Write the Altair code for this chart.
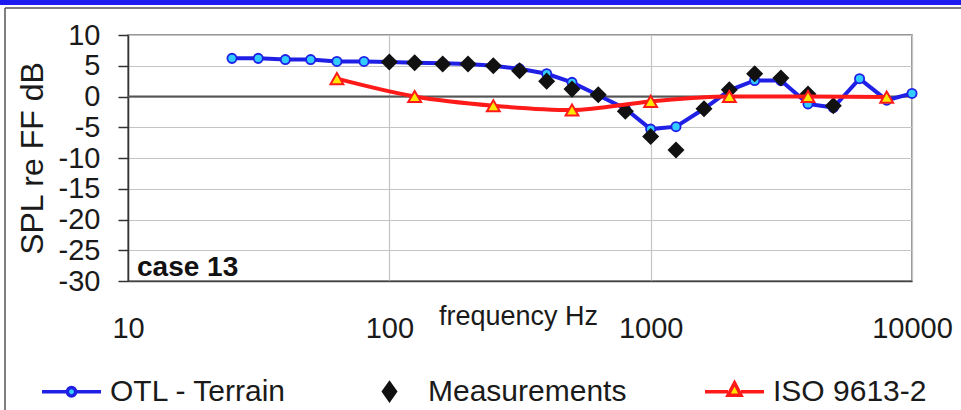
import altair as alt
import pandas as pd

# ---- data ----
otl_freq = [25, 31.5, 40, 50, 63, 80, 100, 125, 160, 200, 250, 315, 400, 500, 630,
            800, 1000, 1250, 1600, 2000, 2500, 3150, 4000, 5000, 6300, 8000, 10000]
otl_val = [6.2, 6.2, 6.0, 6.0, 5.7, 5.7, 5.6, 5.5, 5.4, 5.3, 5.0, 4.5, 3.7, 2.3, 0.2,
           -2.0, -5.3, -4.9, -2.0, 1.0, 2.6, 2.6, -1.2, -1.8, 2.9, -0.6, 0.5]

meas_freq = [100, 125, 160, 200, 250, 315, 400, 500, 630, 800, 1000, 1250, 1600,
             2000, 2500, 3150, 4000, 5000]
meas_val = [5.6, 5.5, 5.3, 5.3, 5.0, 4.2, 2.5, 1.2, 0.3, -2.4, -6.5, -8.7, -2.0,
            1.1, 3.7, 3.0, 0.4, -1.5]

iso_freq = [63, 125, 250, 500, 1000, 2000, 4000, 8000]
iso_val = [2.9, 0.0, -1.5, -2.2, -0.8, 0.0, 0.0, -0.1]

series_names = ["OTL - Terrain", "Measurements", "ISO 9613-2"]
x_ticks = [10, 100, 1000, 10000]
y_ticks = [-30, -25, -20, -15, -10, -5, 0, 5, 10]
case_label = ["case 13"]
zero_line = [0]

otl = pd.DataFrame({"f": otl_freq, "v": otl_val})
meas = pd.DataFrame({"f": meas_freq, "v": meas_val})
iso = pd.DataFrame({"f": iso_freq, "v": iso_val})

FONT = "Liberation Sans"
TXT = "#1a1a1a"
BLUE = "#1f1fe6"
CYAN = "#33ccff"
BLACK = "#111111"
RED = "#ff1a1a"
YELLOW = "#ffe600"

W, H = 784, 246
xs = alt.Scale(type="log", domain=[10, 10000])
ys = alt.Scale(domain=[-30, 10])

xaxis = alt.Axis(values=x_ticks, labelExpr="'' + datum.value", title="frequency Hz",
                 grid=True, gridColor="#c4c4c4", gridWidth=1.2, ticks=False, tickSize=0,
                 domain=True, domainColor="#444444", domainWidth=1.5,
                 labelFont=FONT, labelFontSize=29, labelColor=TXT, labelPadding=33,
                 labelFlush=False, labelOverlap=False, labelBound=False,
                 titleFont=FONT, titleFontSize=27, titleFontWeight="normal",
                 titleColor=TXT, titleX=390, titleY=43, titleBaseline="alphabetic",
                 titleAlign="center")
yaxis = alt.Axis(values=y_ticks, labelExpr="'' + datum.value", title="SPL re FF dB",
                 grid=True, gridColor="#c4c4c4", gridWidth=1.2, ticks=True, tickSize=10,
                 tickColor="#333333", tickWidth=1.5, domainColor="#333333",
                 domainWidth=1.5, labelFont=FONT, labelFontSize=29, labelColor=TXT,
                 labelPadding=18, labelOverlap=False, labelBound=False, labelFlush=False,
                 titleFont=FONT, titleFontSize=32, titleFontWeight="normal",
                 titleColor=TXT, titleAngle=270, titleX=-86, titleY=123,
                 titleBaseline="alphabetic", titleAlign="center")

X = alt.X("f:Q", scale=xs, axis=xaxis)
Y = alt.Y("v:Q", scale=ys, axis=yaxis)

zero = alt.Chart(pd.DataFrame({"v": zero_line})).mark_rule(
    color="#555555", strokeWidth=2).encode(y=Y)

blue_line = alt.Chart(otl).mark_line(color=BLUE, strokeWidth=4).encode(x=X, y=Y)
blue_pts = alt.Chart(otl).mark_point(shape="circle", filled=True, fill=CYAN,
                                     stroke=BLUE, strokeWidth=1.8, size=85,
                                     opacity=1).encode(x=X, y=Y)
diamonds = alt.Chart(meas).mark_point(shape="diamond", filled=True, color=BLACK,
                                      size=290, opacity=1).encode(x=X, y=Y)
red_line = alt.Chart(iso).mark_line(color=RED, strokeWidth=4,
                                    interpolate="monotone").encode(x=X, y=Y)
triangles = alt.Chart(iso).mark_point(shape="triangle-up", filled=True, fill=YELLOW,
                                      stroke=RED, strokeWidth=2, size=165,
                                      opacity=1).encode(x=X, y=Y)

case_txt = alt.Chart(pd.DataFrame({"t": case_label})).mark_text(
    align="left", baseline="alphabetic", font=FONT, fontSize=28,
    fontWeight="bold", color=BLACK).encode(
    x=alt.value(9), y=alt.value(241), text="t:N")

# legend symbols: line + marker as custom paths
p_otl = "M-1,0L-0.14,0M0.14,0L1,0M-0.14,0A0.14,0.14,0,1,1,0.14,0A0.14,0.14,0,1,1,-0.14,0Z"
p_meas = "M0,-0.28L0.2,0L0,0.28L-0.2,0Z"
p_iso = "M-1,0L-0.22,0M0.22,0L1,0M0,-0.3L0.22,0.12L-0.22,0.12Z"

leg = alt.Legend(title=None, orient="none", legendX=-88, legendY=325,
                 direction="horizontal", symbolSize=3481, symbolStrokeWidth=3.5,
                 symbolOpacity=1, labelFont=FONT, labelFontSize=30, labelColor=TXT,
                 labelOffset=7, columnPadding=71, labelLimit=0, padding=0)
legend_layer = alt.Chart(pd.DataFrame({"s": series_names})).mark_point(
    clip=True, size=3481, strokeWidth=3.5, opacity=1, filled=True).encode(
    x=alt.value(-500), y=alt.value(-500),
    shape=alt.Shape("s:N", scale=alt.Scale(domain=series_names,
                                           range=[p_otl, p_meas, p_iso]), legend=leg),
    stroke=alt.Stroke("s:N", scale=alt.Scale(domain=series_names,
                                             range=[BLUE, BLACK, RED]), legend=leg),
    fill=alt.Fill("s:N", scale=alt.Scale(domain=series_names,
                                         range=[CYAN, BLACK, YELLOW]), legend=leg),
)

one = pd.DataFrame({"k": [0]})
top_bar = alt.Chart(one).mark_rect(color="#1c1cf0", clip=False).encode(
    x=alt.value(-128), x2=alt.value(833), y=alt.value(-35), y2=alt.value(-30))
frame_top = alt.Chart(one).mark_rule(color="#555555", strokeWidth=1.5, clip=False).encode(
    x=alt.value(-123), x2=alt.value(833), y=alt.value(-27))
frame_left = alt.Chart(one).mark_rule(color="#555555", strokeWidth=1.5, clip=False).encode(
    x=alt.value(-123), y=alt.value(-27), y2=alt.value(380))

chart = alt.layer(
    zero, blue_line, blue_pts, diamonds, red_line, triangles, case_txt,
    legend_layer, top_bar, frame_top, frame_left
).properties(
    width=W, height=H,
    autosize=alt.AutoSizeParams(type="none"),
    padding={"left": 128, "top": 35, "right": 49, "bottom": 129},
    background="white",
).configure_view(stroke="#777777", strokeWidth=1.5)

chart.save("out.html", embed_options={"renderer": "svg", "actions": False})
